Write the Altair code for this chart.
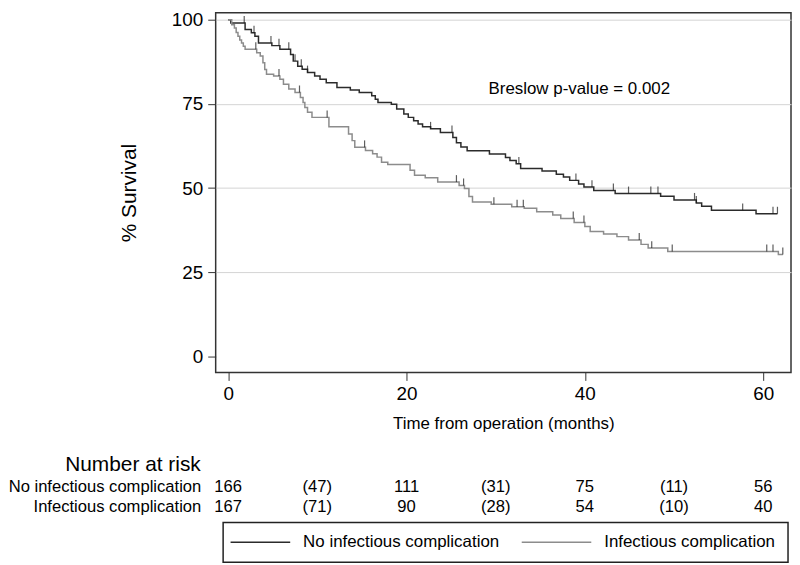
import altair as alt
import pandas as pd

FONT = "Liberation Sans, Arial, Helvetica, sans-serif"

# ---- data ----
groups = ["No infectious complication", "Infectious complication"]
colors = ["#2b2b2b", "#8c8c8c"]

no_inf_t = [0, 0.3, 1.9, 2.6, 3.0, 3.4, 4.9, 5.8, 7.0, 7.3, 7.8, 8.3, 8.9, 9.7, 10.3,
            11.0, 12.2, 13.7, 14.7, 16.1, 16.5, 16.8, 18.3, 18.9, 19.7, 20.2, 20.8,
            21.3, 21.8, 22.7, 23.8, 25.2, 25.6, 26.1, 26.8, 29.3, 31.1, 31.6, 32.3,
            32.8, 35.2, 36.8, 37.6, 38.3, 39.3, 39.9, 41.0, 43.4, 48.5, 50.0, 52.5,
            53.1, 54.2, 59.2, 61.6]
no_inf_s = [100, 99.0, 97.1, 96.1, 95.1, 93.1, 92.3, 91.2, 89.7, 87.7, 86.2, 85.3,
            84.3, 83.3, 82.3, 81.3, 79.9, 79.1, 78.4, 77.4, 76.4, 75.4, 74.9, 73.5,
            72.0, 71.0, 70.0, 69.0, 68.2, 67.6, 66.5, 65.0, 63.5, 62.2, 61.1, 60.1,
            59.1, 58.2, 57.2, 55.8, 55.1, 54.1, 53.3, 52.3, 51.2, 50.3, 49.3, 48.4,
            47.6, 46.5, 45.6, 44.6, 43.4, 42.4, 42.4]
no_inf_cens = [1.8, 2.9, 4.8, 5.7, 6.8, 7.5, 8.2, 8.9, 22.7, 25.1, 32.6, 39.0, 40.8,
               43.2, 44.9, 47.4, 48.2, 52.3, 52.5, 57.7, 61.1, 61.6]

inf_t = [0, 0.4, 0.7, 0.9, 1.1, 1.3, 1.5, 1.7, 1.9, 3.2, 3.6, 3.9, 4.1, 4.3, 5.1,
         5.8, 6.2, 6.8, 7.5, 8.1, 8.4, 8.6, 8.9, 9.4, 11.3, 13.5, 13.9, 14.2, 15.4,
         16.2, 16.7, 17.2, 17.9, 20.4, 20.9, 22.1, 23.5, 25.9, 26.5, 27.0, 27.4,
         29.5, 31.8, 33.2, 34.6, 36.4, 37.3, 38.8, 40.0, 40.6, 42.1, 43.6, 44.9,
         46.3, 47.1, 49.3, 61.7, 62.2]
inf_s = [100, 98.5, 97.5, 96.2, 95.1, 94.0, 93.1, 92.1, 91.2, 90.2, 89.2, 87.2,
         85.2, 83.8, 83.3, 82.3, 80.8, 79.4, 78.4, 76.9, 75.4, 73.9, 72.5, 71.0,
         68.2, 66.1, 64.1, 62.1, 61.2, 60.2, 59.2, 57.7, 57.0, 55.3, 53.8, 53.1,
         51.8, 50.8, 49.9, 47.5, 45.9, 45.2, 44.5, 44.0, 43.0, 42.0, 41.0, 39.8,
         38.6, 37.1, 36.4, 35.6, 34.6, 33.3, 32.2, 31.2, 30.3, 30.3]
inf_cens = [3.1, 5.7, 8.0, 11.1, 15.3, 25.6, 26.4, 29.8, 32.4, 33.1, 38.7, 39.9,
            46.1, 47.5, 49.8, 60.4, 61.1, 62.2]

risk_times = [0, 10, 20, 30, 40, 50, 60]
no_inf_risk = ["166", "(47)", "111", "(31)", "75", "(11)", "56"]
inf_risk = ["167", "(71)", "90", "(28)", "54", "(10)", "40"]

pvalue_text = "Breslow p-value = 0.002"
x_ticks = [0, 20, 40, 60]
y_ticks = [0, 25, 50, 75, 100]

# ---- build tables ----
def surv_at(ts, ss, t):
    v = ss[0]
    for ti, si in zip(ts, ss):
        if ti <= t:
            v = si
    return v

curves = [(groups[0], no_inf_t, no_inf_s, no_inf_cens),
          (groups[1], inf_t, inf_s, inf_cens)]
km_rows, cens_rows = [], []
for g, ts, ss, cs in curves:
    for t, s in zip(ts, ss):
        km_rows.append({"group": g, "time": t, "surv": s})
    for c in cs:
        cens_rows.append({"group": g, "time": c, "surv": surv_at(ts, ss, c)})
km = pd.DataFrame(km_rows)
cens = pd.DataFrame(cens_rows)

risk_rows = []
for g, vals in zip(groups, [no_inf_risk, inf_risk]):
    for t, v in zip(risk_times, vals):
        risk_rows.append({"group": g, "time": t, "label": v})
risk = pd.DataFrame(risk_rows)
legend_df = pd.DataFrame({"group": groups})

# ---- scales ----
W = 579
x_scale = alt.Scale(domain=[-1.40, 63.12], nice=False, zero=False)
y_scale = alt.Scale(domain=[-4.72, 102.06], nice=False, zero=False)
color_scale = alt.Scale(domain=groups, range=colors)

lines = alt.Chart(km).mark_line(interpolate="step-after", strokeWidth=1.5).encode(
    x=alt.X("time:Q", scale=x_scale,
            axis=alt.Axis(values=x_ticks, grid=False, domain=False, tickSize=8,
                          tickColor="#333", labelFontSize=19, labelPadding=4,
                          labelColor="#000", labelFont=FONT,
                          title="Time from operation (months)", titleFontSize=17,
                          titleFontWeight="normal", titleColor="#000", titleFont=FONT,
                          titlePadding=12)),
    y=alt.Y("surv:Q", scale=y_scale,
            axis=alt.Axis(values=y_ticks, grid=True,
                          gridColor=alt.condition("datum.value == 0",
                                                  alt.value("transparent"),
                                                  alt.value("#d4d4d4")),
                          domain=False, tickSize=8, tickColor="#333",
                          labelFontSize=19, labelPadding=5, labelColor="#000",
                          labelFont=FONT, title="% Survival", titleFontSize=21,
                          titleFontWeight="normal", titleColor="#000",
                          titleFont=FONT, titlePadding=32)),
    color=alt.Color("group:N", scale=color_scale, legend=None),
)

ticks = alt.Chart(cens).mark_tick(orient="vertical", size=7, thickness=1.2,
                                  color="#1a1a1a", yOffset=-3.5).encode(
    x=alt.X("time:Q", scale=x_scale),
    y=alt.Y("surv:Q", scale=y_scale),
)

note = alt.Chart(legend_df.head(1)).mark_text(
    align="left", baseline="middle", fontSize=17, font=FONT, color="#000"
).encode(x=alt.datum(29.2), y=alt.datum(79.4), text=alt.value(pvalue_text))

top = alt.layer(lines, ticks, note).properties(
    width=W, height=362,
    view=alt.ViewBackground(stroke="#333", strokeWidth=1.5),
)

# ---- risk table + legend ----
table = alt.Chart(risk).mark_text(fontSize=16.7, font=FONT, color="#000",
                                  baseline="middle").encode(
    x=alt.X("time:Q", scale=x_scale, axis=None),
    y=alt.Y("group:N", sort=groups,
            scale=alt.Scale(type="point", domain=groups, range=[12, 32], padding=0),
            axis=alt.Axis(title=None, domain=False, ticks=False, grid=False,
                          labelFontSize=16.7, labelPadding=15, labelLimit=400,
                          labelColor="#000", labelFont=FONT)),
    text="label:N",
)

box = alt.Chart(legend_df.head(1)).mark_rect(
    fillOpacity=0, stroke="#222", strokeWidth=1.5
).encode(x=alt.value(7.5), x2=alt.value(576), y=alt.value(48), y2=alt.value(88))

sym_x0 = [15, 308]
sym_x1 = [75, 378]
lab_x = [88, 391]
legend_layers = []
for i, g in enumerate(groups):
    base = alt.Chart(legend_df).transform_filter(alt.datum.group == g)
    legend_layers.append(base.mark_rule(strokeWidth=1.5).encode(
        x=alt.value(sym_x0[i]), x2=alt.value(sym_x1[i]), y=alt.value(68),
        color=alt.Color("group:N", scale=color_scale, legend=None)))
    legend_layers.append(base.mark_text(align="left", baseline="middle",
                                        fontSize=17, font=FONT, color="#000").encode(
        x=alt.value(lab_x[i]), y=alt.value(68), text="group:N"))

bottom = alt.layer(table, box, *legend_layers).properties(
    width=W, height=88,
    title=alt.TitleParams("Number at risk", anchor="start", align="right",
                          frame="group", dx=-15, fontSize=21,
                          fontWeight="normal", font=FONT, color="#000", offset=0),
    view=alt.ViewBackground(strokeWidth=0),
)

chart = alt.vconcat(top, bottom, spacing=22).properties(padding=0)
chart = chart.configure(font=FONT)

chart.save("out.html", embed_options={"renderer": "svg", "actions": False})
